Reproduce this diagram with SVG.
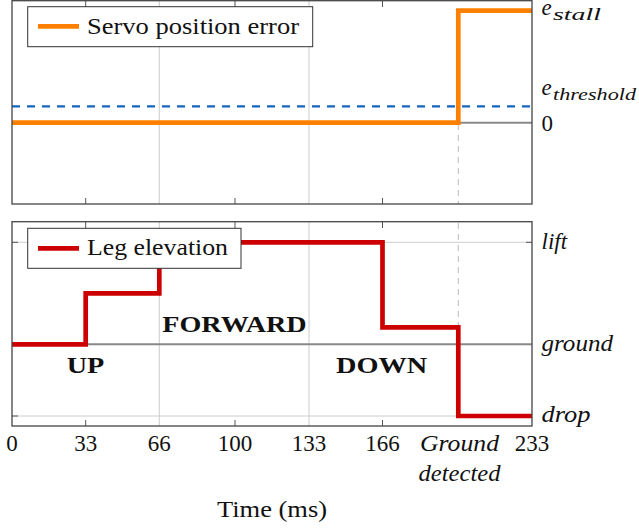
<svg xmlns="http://www.w3.org/2000/svg" width="639" height="529" viewBox="0 0 639 529" font-family="Liberation Serif">
<style>
.t{font-size:23px;fill:#111;}
.it{font-style:italic;fill:#111;}
.b{font-weight:bold;font-size:23px;fill:#111;}
.frame{fill:none;stroke:#444;stroke-width:1.3;}
.grid{stroke:#ccc;stroke-width:1;}
.tick{stroke:#555;stroke-width:1;}
.zero{stroke:#888;stroke-width:2;}
.det{stroke:#bbb;stroke-width:1;stroke-dasharray:6 5;}
.leg{fill:#fff;stroke:#333;stroke-width:1;}
</style>
<rect width="639" height="529" fill="#fff"/>
<g id="top-panel" font-family="Liberation Serif">
  <line class="grid" x1="159.3" y1="1" x2="159.3" y2="204"/>
  <line class="grid" x1="309" y1="1" x2="309" y2="204"/>
  <g class="tick">
    <line x1="85.7" y1="1" x2="85.7" y2="7"/><line x1="85.7" y1="198" x2="85.7" y2="204"/>
    <line x1="235" y1="1" x2="235" y2="7"/><line x1="235" y1="198" x2="235" y2="204"/>
    <line x1="382.5" y1="1" x2="382.5" y2="7"/><line x1="382.5" y1="198" x2="382.5" y2="204"/>
  </g>
  <line class="det" x1="458.3" y1="124" x2="458.3" y2="204"/>
  <line class="zero" x1="12" y1="122.7" x2="532" y2="122.7"/>
  <line x1="12" y1="106.3" x2="532" y2="106.3" stroke="#1565C0" stroke-width="2.2" stroke-dasharray="8 7"/>
  <polyline points="12,122.7 458.3,122.7 458.3,10.7 532,10.7" fill="none" stroke="#FF8000" stroke-width="4.7"/>
  <rect class="frame" x="12" y="0.7" width="520" height="203.3"/>
  <g id="legend-top">
    <rect class="leg" x="27.7" y="6.7" width="285" height="40"/>
    <line x1="38" y1="26.3" x2="79" y2="26.3" stroke="#FF8000" stroke-width="4.7"/>
    <text class="t" x="87" y="33.5" textLength="212" lengthAdjust="spacingAndGlyphs">Servo position error</text>
  </g>
  <text class="t it" x="541.5" y="15">e</text>
  <text class="it" font-size="17" x="553" y="19.5" textLength="48" lengthAdjust="spacingAndGlyphs">stall</text>
  <text class="t it" x="541.5" y="94.5">e</text>
  <text class="it" font-size="17" x="553" y="100" textLength="83" lengthAdjust="spacingAndGlyphs">threshold</text>
  <text class="t" x="541.5" y="131">0</text>
</g>
<g id="bottom-panel" font-family="Liberation Serif">
  <line class="grid" x1="12" y1="242.3" x2="532" y2="242.3"/>
  <line class="grid" x1="12" y1="416" x2="532" y2="416"/>
  <line class="grid" x1="159.3" y1="222" x2="159.3" y2="426"/>
  <line class="grid" x1="309" y1="222" x2="309" y2="426"/>
  <g class="tick">
    <line x1="85.7" y1="222" x2="85.7" y2="228"/><line x1="85.7" y1="420" x2="85.7" y2="426"/>
    <line x1="235" y1="222" x2="235" y2="228"/><line x1="235" y1="420" x2="235" y2="426"/>
    <line x1="382.5" y1="222" x2="382.5" y2="228"/><line x1="382.5" y1="420" x2="382.5" y2="426"/>
    <line x1="12" y1="242.3" x2="18" y2="242.3"/><line x1="526" y1="242.3" x2="532" y2="242.3"/>
    <line x1="12" y1="416" x2="18" y2="416"/><line x1="526" y1="416" x2="532" y2="416"/>
  </g>
  <line class="det" x1="458.3" y1="223" x2="458.3" y2="326"/>
  <line class="zero" x1="12" y1="344.3" x2="532" y2="344.3"/>
  <polyline points="12,344.3 85.7,344.3 85.7,293.3 159.3,293.3 159.3,242.3 382.5,242.3 382.5,327.3 458.3,327.3 458.3,416 532,416" fill="none" stroke="#CC0000" stroke-width="4.7"/>
  <rect class="frame" x="12" y="221.7" width="520" height="204.3"/>
  <g id="legend-bottom">
    <rect class="leg" x="27.7" y="228.3" width="213.3" height="40"/>
    <line x1="38" y1="248.3" x2="79" y2="248.3" stroke="#CC0000" stroke-width="4.7"/>
    <text class="t" x="87" y="255" textLength="141" lengthAdjust="spacingAndGlyphs">Leg elevation</text>
  </g>
  <text class="b" x="66.7" y="373.3" textLength="37.6" lengthAdjust="spacingAndGlyphs">UP</text>
  <text class="b" x="162.3" y="331.7" textLength="144.4" lengthAdjust="spacingAndGlyphs">FORWARD</text>
  <text class="b" x="336" y="373.3" textLength="91.3" lengthAdjust="spacingAndGlyphs">DOWN</text>
  <text class="t it" x="541.5" y="249">lift</text>
  <text class="t it" x="541.5" y="350.5" textLength="71.5" lengthAdjust="spacingAndGlyphs">ground</text>
  <text class="t it" x="541.5" y="421.5" textLength="49" lengthAdjust="spacingAndGlyphs">drop</text>
</g>
<g id="x-axis" text-anchor="middle" font-family="Liberation Serif">
  <text class="t" x="12" y="450.7">0</text>
  <text class="t" x="85.7" y="450.7">33</text>
  <text class="t" x="159.3" y="450.7">66</text>
  <text class="t" x="235" y="450.7">100</text>
  <text class="t" x="309" y="450.7">133</text>
  <text class="t" x="382.5" y="450.7">166</text>
  <text class="t it" x="459.5" y="450.7" textLength="79" lengthAdjust="spacingAndGlyphs">Ground</text>
  <text class="t it" x="459.5" y="480.7" textLength="82" lengthAdjust="spacingAndGlyphs">detected</text>
  <text class="t" x="532" y="450.7">233</text>
  <text class="t" x="272" y="516.7" textLength="110" lengthAdjust="spacingAndGlyphs">Time (ms)</text>
</g>
</svg>
